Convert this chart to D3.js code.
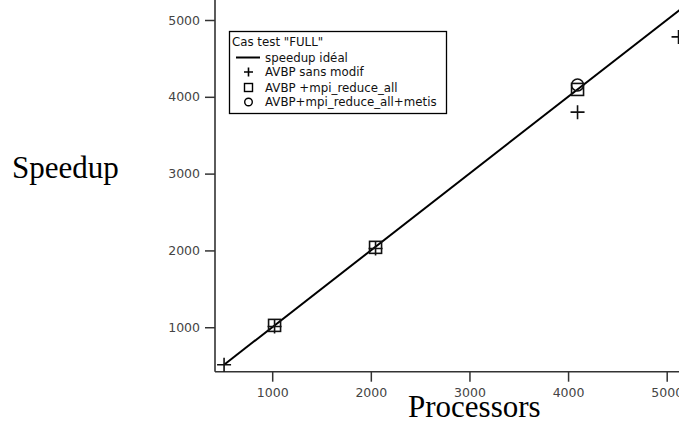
<!DOCTYPE html>
<html>
<head>
<meta charset="utf-8">
<script src="https://cdn.jsdelivr.net/npm/d3@7"></script>
<style>
  body { margin: 0; background: #fff; }
  svg { display: block; }
</style>
</head>
<body>
<svg id="chart"></svg>
<script>
// data
var xTicks = [1000, 2000, 3000, 4000, 5000];
var yTicks = [1000, 2000, 3000, 4000, 5000];

var idealProcs = [512, 5400];

var sansModifProcs   = [512, 1024, 2048, 4096, 5120];
var sansModifSpeedup = [512, 1010, 2025, 3800, 4780];

var reduceProcs   = [1024, 2048, 4096];
var reduceSpeedup = [1024, 2040, 4096];

var metisProcs   = [4096];
var metisSpeedup = [4155];

var legendLabels = ["speedup idéal", "AVBP sans modif", "AVBP +mpi_reduce_all", "AVBP+mpi_reduce_all+metis"];

var width = 679, height = 421;

var svg = d3.select("#chart")
  .attr("width", width)
  .attr("height", height);

var x = d3.scaleLinear().domain([420, 5000]).range([215, 666.7]);
var y = d3.scaleLinear().domain([421, 5000]).range([371.7, 20]);

var tickFont = "DejaVu Sans, sans-serif";
var fmt = d3.format("d");

// axes
var gx = svg.append("g")
  .attr("transform", "translate(0," + y(421) + ")")
  .call(d3.axisBottom(x).tickValues(xTicks).tickFormat(fmt).tickSize(10).tickPadding(6).tickSizeOuter(0));
gx.select(".domain").remove();
gx.selectAll("line").attr("stroke", "#333").attr("stroke-width", 1.5);
gx.selectAll("text").attr("fill", "#444").style("font-family", tickFont).style("font-size", "12.5px");

var gy = svg.append("g")
  .attr("transform", "translate(" + x(420) + ",0)")
  .call(d3.axisLeft(y).tickValues(yTicks).tickFormat(fmt).tickSize(10).tickPadding(5).tickSizeOuter(0));
gy.select(".domain").remove();
gy.selectAll("line").attr("stroke", "#333").attr("stroke-width", 1.5);
gy.selectAll("text").attr("fill", "#444").style("font-family", tickFont).style("font-size", "12.5px");

// axis lines run to the edges of the picture
svg.append("line")
  .attr("x1", x(420)).attr("x2", width)
  .attr("y1", y(421)).attr("y2", y(421))
  .attr("stroke", "#333").attr("stroke-width", 1.6);
svg.append("line")
  .attr("x1", x(420)).attr("x2", x(420))
  .attr("y1", y(421)).attr("y2", 0)
  .attr("stroke", "#333").attr("stroke-width", 1.6);

// ideal speedup line
svg.append("path")
  .datum(idealProcs)
  .attr("d", d3.line().x(function(d) { return x(d); }).y(function(d) { return y(d); }))
  .attr("fill", "none")
  .attr("stroke", "#000")
  .attr("stroke-width", 2);

function plusPath(cx, cy, s) {
  return "M" + (cx - s) + "," + cy + "H" + (cx + s) + "M" + cx + "," + (cy - s) + "V" + (cy + s);
}

// sans modif : plus
svg.selectAll(".plus")
  .data(sansModifProcs)
  .enter().append("path")
  .attr("class", "plus")
  .attr("d", function(d, i) { return plusPath(x(d), y(sansModifSpeedup[i]), 7); })
  .attr("stroke", "#111")
  .attr("stroke-width", 1.6)
  .attr("fill", "none");

// mpi_reduce_all : square
svg.selectAll(".sq")
  .data(reduceProcs)
  .enter().append("rect")
  .attr("class", "sq")
  .attr("x", function(d) { return x(d) - 6; })
  .attr("y", function(d, i) { return y(reduceSpeedup[i]) - 6; })
  .attr("width", 12).attr("height", 12)
  .attr("fill", "none")
  .attr("stroke", "#111")
  .attr("stroke-width", 1.6);

// +metis : circle
svg.selectAll(".circ")
  .data(metisProcs)
  .enter().append("circle")
  .attr("class", "circ")
  .attr("cx", function(d) { return x(d); })
  .attr("cy", function(d, i) { return y(metisSpeedup[i]); })
  .attr("r", 6)
  .attr("fill", "none")
  .attr("stroke", "#111")
  .attr("stroke-width", 1.5);

// legend
var lg = svg.append("g");
lg.append("rect")
  .attr("x", 229.5).attr("y", 31.5)
  .attr("width", 217).attr("height", 82)
  .attr("fill", "#fff")
  .attr("stroke", "#000")
  .attr("stroke-width", 1.3);

lg.append("text")
  .attr("x", 232).attr("y", 46)
  .style("font-family", tickFont).style("font-size", "11.8px")
  .attr("fill", "#111")
  .text('Cas test "FULL"');

var rowY = [57.5, 72, 87.5, 102];
lg.selectAll(".lt")
  .data(legendLabels)
  .enter().append("text")
  .attr("class", "lt")
  .attr("x", 265)
  .attr("y", function(d, i) { return rowY[i] + 4; })
  .style("font-family", tickFont).style("font-size", "11.8px")
  .attr("fill", "#111")
  .text(function(d) { return d; });

lg.append("line")
  .attr("x1", 236).attr("x2", 260)
  .attr("y1", rowY[0]).attr("y2", rowY[0])
  .attr("stroke", "#000").attr("stroke-width", 2);
lg.append("path")
  .attr("d", plusPath(248.5, rowY[1], 4.5))
  .attr("stroke", "#000").attr("stroke-width", 1.6);
lg.append("rect")
  .attr("x", 244.5).attr("y", rowY[2] - 4)
  .attr("width", 8).attr("height", 8)
  .attr("fill", "none").attr("stroke", "#000").attr("stroke-width", 1.4);
lg.append("circle")
  .attr("cx", 248.5).attr("cy", rowY[3])
  .attr("r", 3.8)
  .attr("fill", "none").attr("stroke", "#000").attr("stroke-width", 1.4);

// axis titles
svg.append("text")
  .attr("x", 12).attr("y", 178)
  .style("font-family", "Liberation Serif, Times New Roman, serif")
  .style("font-size", "31px")
  .attr("fill", "#000")
  .text("Speedup");

svg.append("text")
  .attr("x", 408).attr("y", 417)
  .style("font-family", "Liberation Serif, Times New Roman, serif")
  .style("font-size", "31px")
  .attr("fill", "#000")
  .text("Processors");
</script>
</body>
</html>
